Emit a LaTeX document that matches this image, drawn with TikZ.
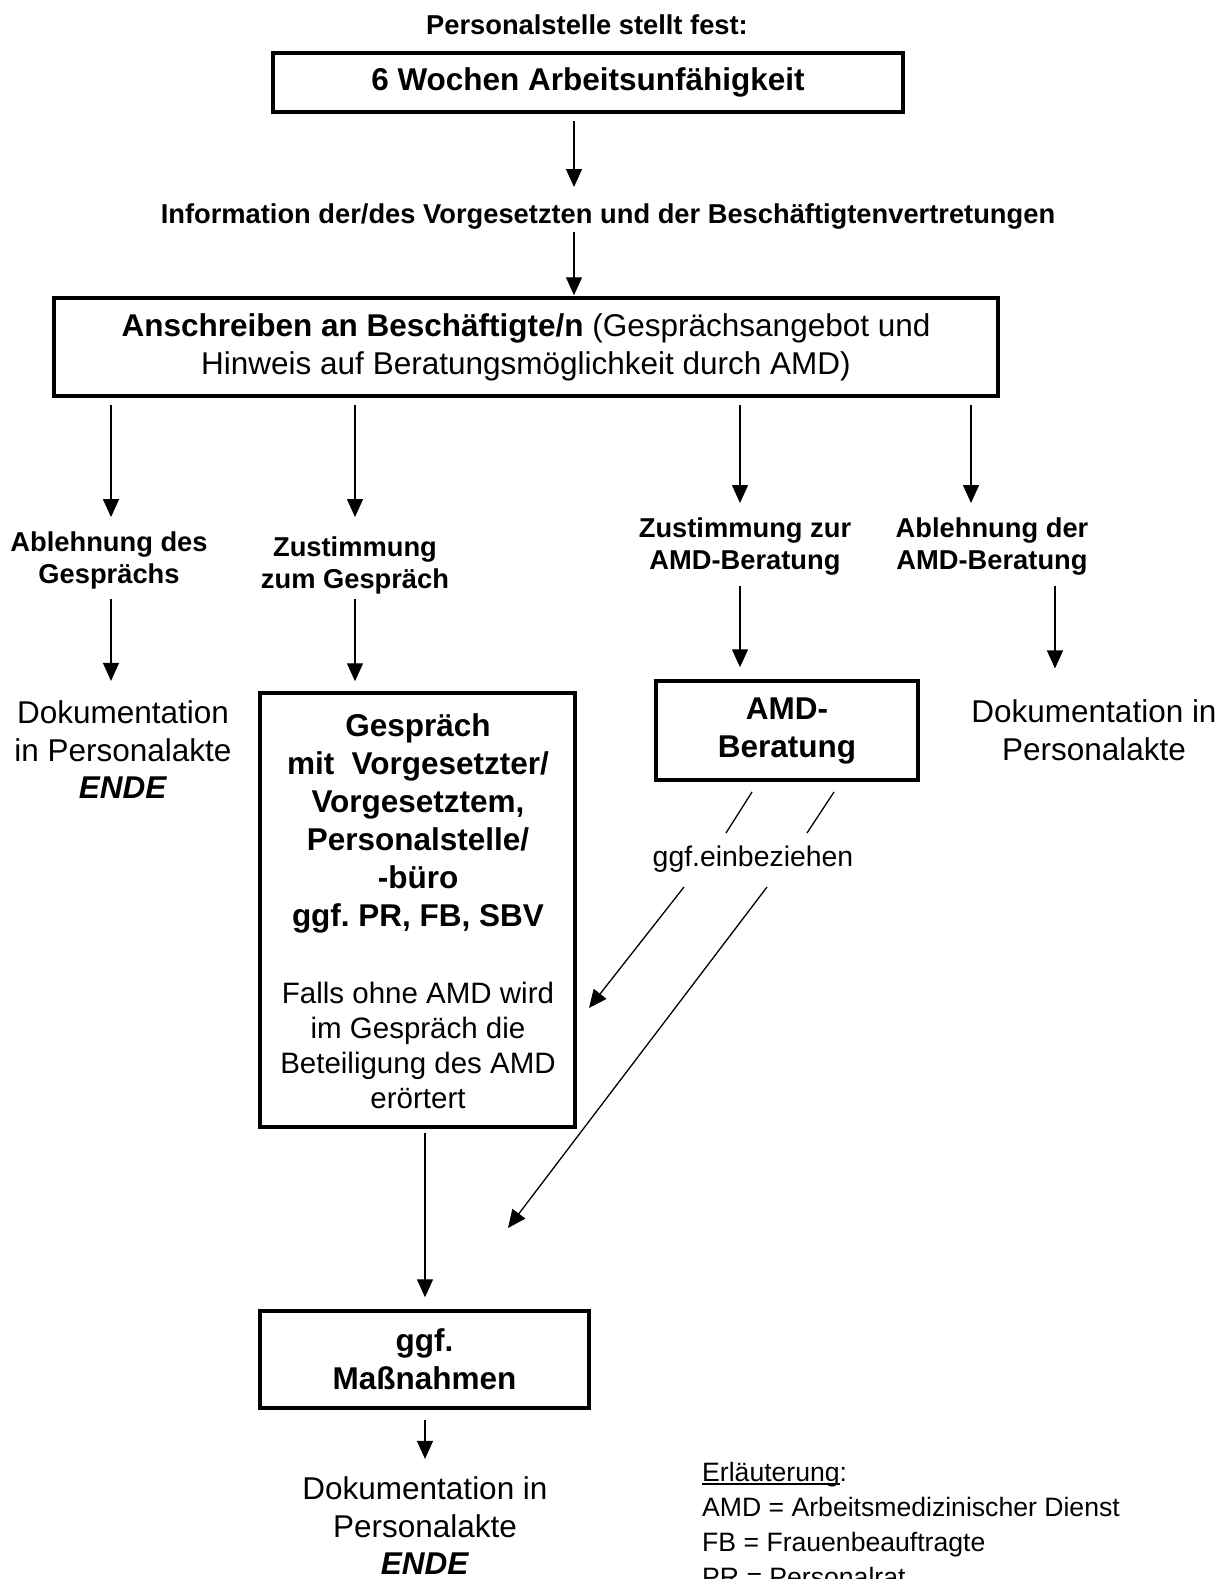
\documentclass[tikz,border=0pt]{standalone}
\usepackage{fontspec}
\setmainfont{Liberation Sans}
\usetikzlibrary{arrows.meta}
\newcommand\myfs[2]{\fontsize{#1}{#2}\selectfont}
\newcommand\myul[1]{\setbox0\hbox{#1}\rlap{\rule[-3.5pt]{\wd0}{1.5pt}}\box0}
\frenchspacing
\begin{document}
\begin{tikzpicture}[x=1pt,y=-1pt,
  box/.style={draw, line width=3.5pt, inner sep=0pt, align=center},
  arr/.style={line width=1.3pt, -{Triangle[length=18pt,width=16pt]}},
  lbl/.style={inner sep=0pt, align=center},
  small/.style={font={\myfs{27.3}{32}\bfseries}},
  big/.style={font={\myfs{31.5}{38}\bfseries}},
  reg/.style={font={\myfs{31.5}{37.5}}},
  thin/.style={line width=1.3pt}]
\useasboundingbox (0,0) rectangle (1229,1579);

% column coordinates
\coordinate (cA) at (574,0);
\coordinate (c1) at (111,0);
\coordinate (c2) at (355,0);
\coordinate (c3) at (740,0);
\coordinate (c4) at (971,0);
\coordinate (c5) at (1055,0);
\coordinate (c6) at (425,0);

% nodes
\node[lbl, small] (pers) at (587,25) {Personalstelle stellt fest:};
\node[box, big, minimum width=630pt, minimum height=59pt] (b1) at (588,82.5) {6 Wochen Arbeitsunfähigkeit};
\node[lbl, small] (info) at (608,216) {Information der/des Vorgesetzten und der Beschäftigtenvertretungen};
\node[box, font={\myfs{31.5}{38}}, minimum width=944pt, minimum height=98pt] (b2) at (526,347)
  {{\bfseries Anschreiben an Beschäftigte/n} (Gesprächsangebot und\\Hinweis auf Beratungsmöglichkeit durch AMD)};

\node[lbl, small] (abl1) at (109,560) {Ablehnung des\\Gesprächs};
\node[lbl, small] (zus1) at (355,565) {Zustimmung\\zum Gespräch};
\node[lbl, small] (zus2) at (745,546) {Zustimmung zur\\AMD-Beratung};
\node[lbl, small] (abl2) at (992,546) {Ablehnung der\\AMD-Beratung};

\node[lbl, reg] (dok1) at (123,750) {Dokumentation\\in Personalakte\\\textbf{\textit{ENDE}}};
\node[box, minimum width=315pt, minimum height=434pt] (gbox) at (417.5,910) {};
\node[lbl, big] (gtop) at (418,823) {Gespräch\\mit\ \ Vorgesetzter/\\Vorgesetztem,\\Personalstelle/\\-büro\\ggf. PR, FB, SBV};
\node[lbl, font={\myfs{29.5}{35}}] (gbot) at (418,1045) {Falls ohne AMD wird\\im Gespräch die\\Beteiligung des AMD\\erörtert};
\node[box, big, minimum width=262pt, minimum height=99pt] (amd) at (787,730.5) {AMD-\\Beratung};
\node[lbl, reg] (dok2) at (1094,730) {Dokumentation in\\Personalakte};
\node[lbl, font={\myfs{28.4}{32}}] (ggf) at (753,859) {ggf.einbeziehen};

\node[box, big, minimum width=329pt, minimum height=97pt] (mass) at (424.5,1359.5) {ggf.\\Maßnahmen};
\node[lbl, reg] (dok3) at (425,1526) {Dokumentation in\\Personalakte\\\textbf{\textit{ENDE}}};

\node[lbl, align=left, anchor=west, font={\myfs{26.6}{35}}] (leg) at (702,1524)
  {\myul{Erläuterung}:\\AMD = Arbeitsmedizinischer Dienst\\FB = Frauenbeauftragte\\PR = Personalrat};

% connectors
\draw[arr, shorten <=7pt, shorten >=16pt] (b1.south -| cA) -- (info.north -| cA);
\draw[arr, shorten <=3pt, shorten >=1pt] (info.south -| cA) -- (b2.north -| cA);
\draw[arr, shorten <=7pt, shorten >=14pt] (b2.south -| c1) -- (abl1.north -| c1);
\draw[arr, shorten <=7pt, shorten >=19pt] (b2.south -| c2) -- (zus1.north -| c2);
\draw[arr, shorten <=7pt, shorten >=14pt] (b2.south -| c3) -- (zus2.north -| c3);
\draw[arr, shorten <=7pt, shorten >=14pt] (b2.south -| c4) -- (abl2.north -| c4);
\draw[arr, shorten <=10pt, shorten >=20pt] (abl1.south -| c1) -- (dok1.north -| c1);
\draw[arr, shorten <=5pt, shorten >=10pt] (zus1.south -| c2) -- (gbox.north -| c2);
\draw[arr, shorten <=11pt, shorten >=12pt] (zus2.south -| c3) -- (amd.north -| c3);
\draw[arr, shorten <=11pt, shorten >=31pt] (abl2.south -| c5) -- (dok2.north -| c5);
\draw[arr, shorten <=4pt, shorten >=12pt] (gbox.south -| c6) -- (mass.north -| c6);
\draw[arr, shorten <=10pt, shorten >=18pt] (mass.south -| c6) -- (dok3.north -| c6);

% "ggf. einbeziehen" strokes and diagonal arrows
\draw[thin] (752,792) -- (726,833);
\draw[thin] (834,792) -- (807,833);
\coordinate (d1s) at (684,887);
\coordinate (d1e) at (589,1008);
\coordinate (d2s) at (767,887);
\coordinate (d2e) at (508,1228);
\draw[arr] (d1s) -- (d1e);
\draw[arr] (d2s) -- (d2e);
\end{tikzpicture}
\end{document}
